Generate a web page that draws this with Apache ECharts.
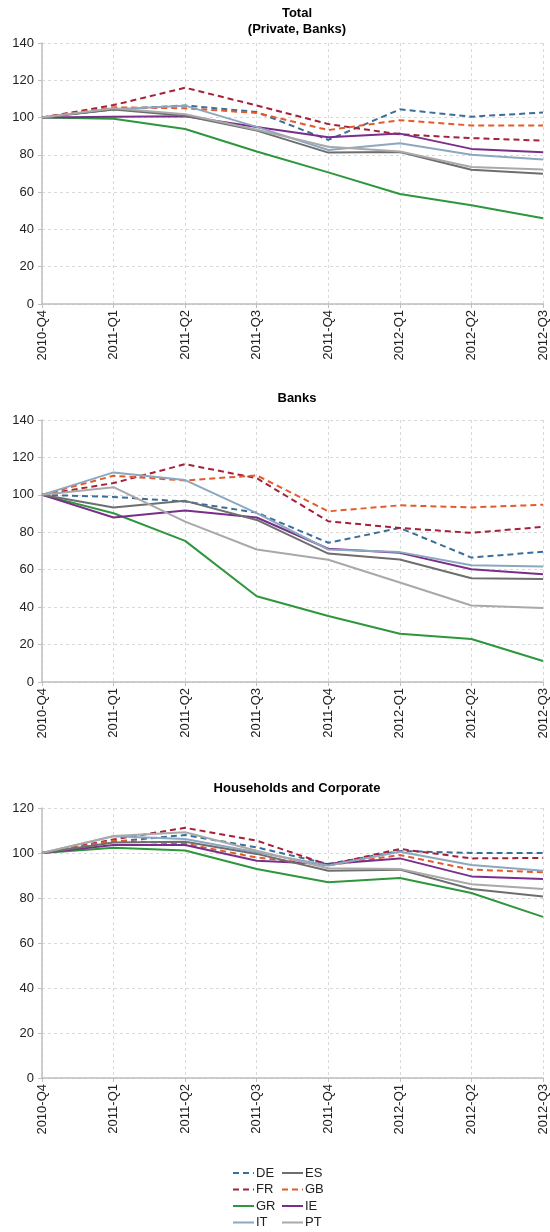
<!DOCTYPE html>
<html>
<head>
<meta charset="utf-8">
<script src="https://cdn.jsdelivr.net/npm/echarts@6/dist/echarts.min.js"></script>
<style>
  html, body { margin: 0; padding: 0; background: #fff; }
  #chart { width: 550px; height: 1232px; }
</style>
</head>
<body>
<div id="chart"></div>
<script>
// quarters on the x axis
const quarters = ['2010-Q4', '2011-Q1', '2011-Q2', '2011-Q3', '2011-Q4', '2012-Q1', '2012-Q2', '2012-Q3']
const countries = ['DE', 'FR', 'GB', 'GR', 'IE', 'IT', 'ES', 'PT']

// panel 1: Total (Private, Banks)
const totalDE = [100, 104.5, 106.5, 103, 88, 104.4, 100.5, 102.7]
const totalFR = [100, 106.7, 116, 106.5, 96.5, 91, 89, 87.6]
const totalGB = [100, 105.5, 105, 102.5, 93.3, 98.6, 95.8, 95.7]
const totalGR = [100, 99.4, 93.9, 81.8, 70.6, 59, 53, 46]
const totalIE = [100, 100.4, 100.7, 95, 89.4, 91.4, 83.2, 81.4]
const totalIT = [100, 104.5, 106.4, 95, 82.6, 86.2, 80.1, 77.5]
const totalES = [100, 104.3, 101, 93, 81.2, 81.5, 72, 69.9]
const totalPT = [100, 105, 101.8, 93.5, 84.4, 81.8, 73.5, 72.2]

// panel 2: Banks
const banksDE = [100, 98.9, 96.4, 90.5, 74.4, 82.3, 66.5, 69.6]
const banksFR = [100, 106.3, 116.4, 108.9, 85.9, 82.3, 79.7, 82.9]
const banksGB = [100, 110.2, 107.7, 110.4, 91.2, 94.4, 93.3, 94.7]
const banksGR = [100, 90.2, 75.4, 45.8, 35.3, 25.8, 23, 11.2]
const banksIE = [100, 87.9, 91.6, 87.9, 71.2, 69, 60.3, 57.6]
const banksIT = [100, 112, 107.9, 90.2, 70.8, 69.4, 62.4, 61.7]
const banksES = [100, 93.2, 96.8, 86.6, 68.6, 65.5, 55.4, 55]
const banksPT = [100, 104.1, 85.7, 70.8, 65.3, 53.2, 40.9, 39.6]

// panel 3: Households and Corporate
const hhDE = [100, 105, 108, 102.5, 95.1, 100.9, 100, 100]
const hhFR = [100, 106, 111.2, 105.5, 94.7, 101.8, 97.6, 97.8]
const hhGB = [100, 105.5, 104.1, 98, 94.5, 99.1, 92.6, 91.4]
const hhGR = [100, 102.3, 101.1, 92.9, 87, 88.9, 82.2, 71.6]
const hhIE = [100, 103.6, 103.6, 96.6, 95.1, 97.6, 89.6, 88.4]
const hhIT = [100, 107.4, 106.2, 100.3, 94.4, 100.6, 94.7, 92.1]
const hhES = [100, 104.7, 105, 99.6, 92.1, 92.6, 84, 80.7]
const hhPT = [100, 107.6, 109.2, 101, 93.2, 92.9, 86.1, 84]

const panelTitles = ['Total\n(Private, Banks)', 'Banks', 'Households and Corporate']
const panelMax = [140, 140, 120]

const panelData = [
  { DE: totalDE, FR: totalFR, GB: totalGB, GR: totalGR, IE: totalIE, IT: totalIT, ES: totalES, PT: totalPT },
  { DE: banksDE, FR: banksFR, GB: banksGB, GR: banksGR, IE: banksIE, IT: banksIT, ES: banksES, PT: banksPT },
  { DE: hhDE, FR: hhFR, GB: hhGB, GR: hhGR, IE: hhIE, IT: hhIT, ES: hhES, PT: hhPT },
]

const colors = {
  DE: '#3b6e98', FR: '#a5203a', GB: '#e35b2b', GR: '#2e963d',
  IE: '#7b2d8b', IT: '#8ca7c0', ES: '#6e6e6e', PT: '#a9a9a9',
}
const dashed = { DE: true, FR: true, GB: true }

const font = 'Liberation Sans, Arial, sans-serif'

// grid layout for the three panels
const grids = [
  { left: 42, right: 7, top: 43, height: 261 },
  { left: 42, right: 7, top: 420, height: 262 },
  { left: 42, right: 7, top: 808, height: 270 },
]
const titleTops = [0, 385, 775]

const chart = echarts.init(document.getElementById('chart'))

const series = []
panelData.forEach((pd, p) => {
  countries.forEach(c => {
    series.push({
      name: c,
      type: 'line',
      xAxisIndex: p,
      yAxisIndex: p,
      data: pd[c],
      symbol: 'none',
      animation: false,
      itemStyle: { color: colors[c] },
      lineStyle: { color: colors[c], width: 2, type: dashed[c] ? [6, 4] : 'solid' },
    })
  })
})

// legend: two columns, line only (no marker)
const legendBase = {
  orient: 'vertical',
  top: 1166,
  padding: 0,
  height: 66,
  itemWidth: 21,
  itemHeight: 10,
  itemGap: 2.5,
  itemStyle: { opacity: 0 },
  textStyle: { fontFamily: font, fontSize: 13, lineHeight: 14, color: '#222', padding: [0, 0, 0, -3] },
}

const option = {
  backgroundColor: '#fff',
  animation: false,
  title: panelTitles.map((t, i) => ({
    text: t,
    left: 292,
    textAlign: 'center',
    top: titleTops[i],
    textStyle: { fontFamily: font, fontSize: 13, fontWeight: 'bold', color: '#000', lineHeight: 16 },
  })),
  grid: grids,
  xAxis: grids.map((g, i) => ({
    type: 'category',
    gridIndex: i,
    data: quarters,
    boundaryGap: false,
    axisLine: { lineStyle: { color: '#bfbfbf', width: 1.5 } },
    axisTick: { show: true, length: 4, lineStyle: { color: '#bfbfbf' } },
    axisLabel: { rotate: 90, fontFamily: font, fontSize: 13, color: '#222', margin: 6, interval: 0 },
    splitLine: { show: true, lineStyle: { color: '#d9d9d9', type: [3, 3] } },
  })),
  yAxis: grids.map((g, i) => ({
    type: 'value',
    gridIndex: i,
    min: 0,
    max: panelMax[i],
    interval: 20,
    axisLine: { show: true, lineStyle: { color: '#bfbfbf', width: 1.5 } },
    axisTick: { show: true, length: 4, lineStyle: { color: '#bfbfbf' } },
    axisLabel: { fontFamily: font, fontSize: 13, color: '#222', margin: 8 },
    splitLine: { show: true, lineStyle: { color: '#d9d9d9', type: [3, 3] } },
  })),
  legend: [
    Object.assign({}, legendBase, { left: 232, data: ['DE', 'FR', 'GR', 'IT'] }),
    Object.assign({}, legendBase, { left: 281, data: ['ES', 'GB', 'IE', 'PT'] }),
  ],
  series,
}

chart.setOption(option)
</script>
</body>
</html>
